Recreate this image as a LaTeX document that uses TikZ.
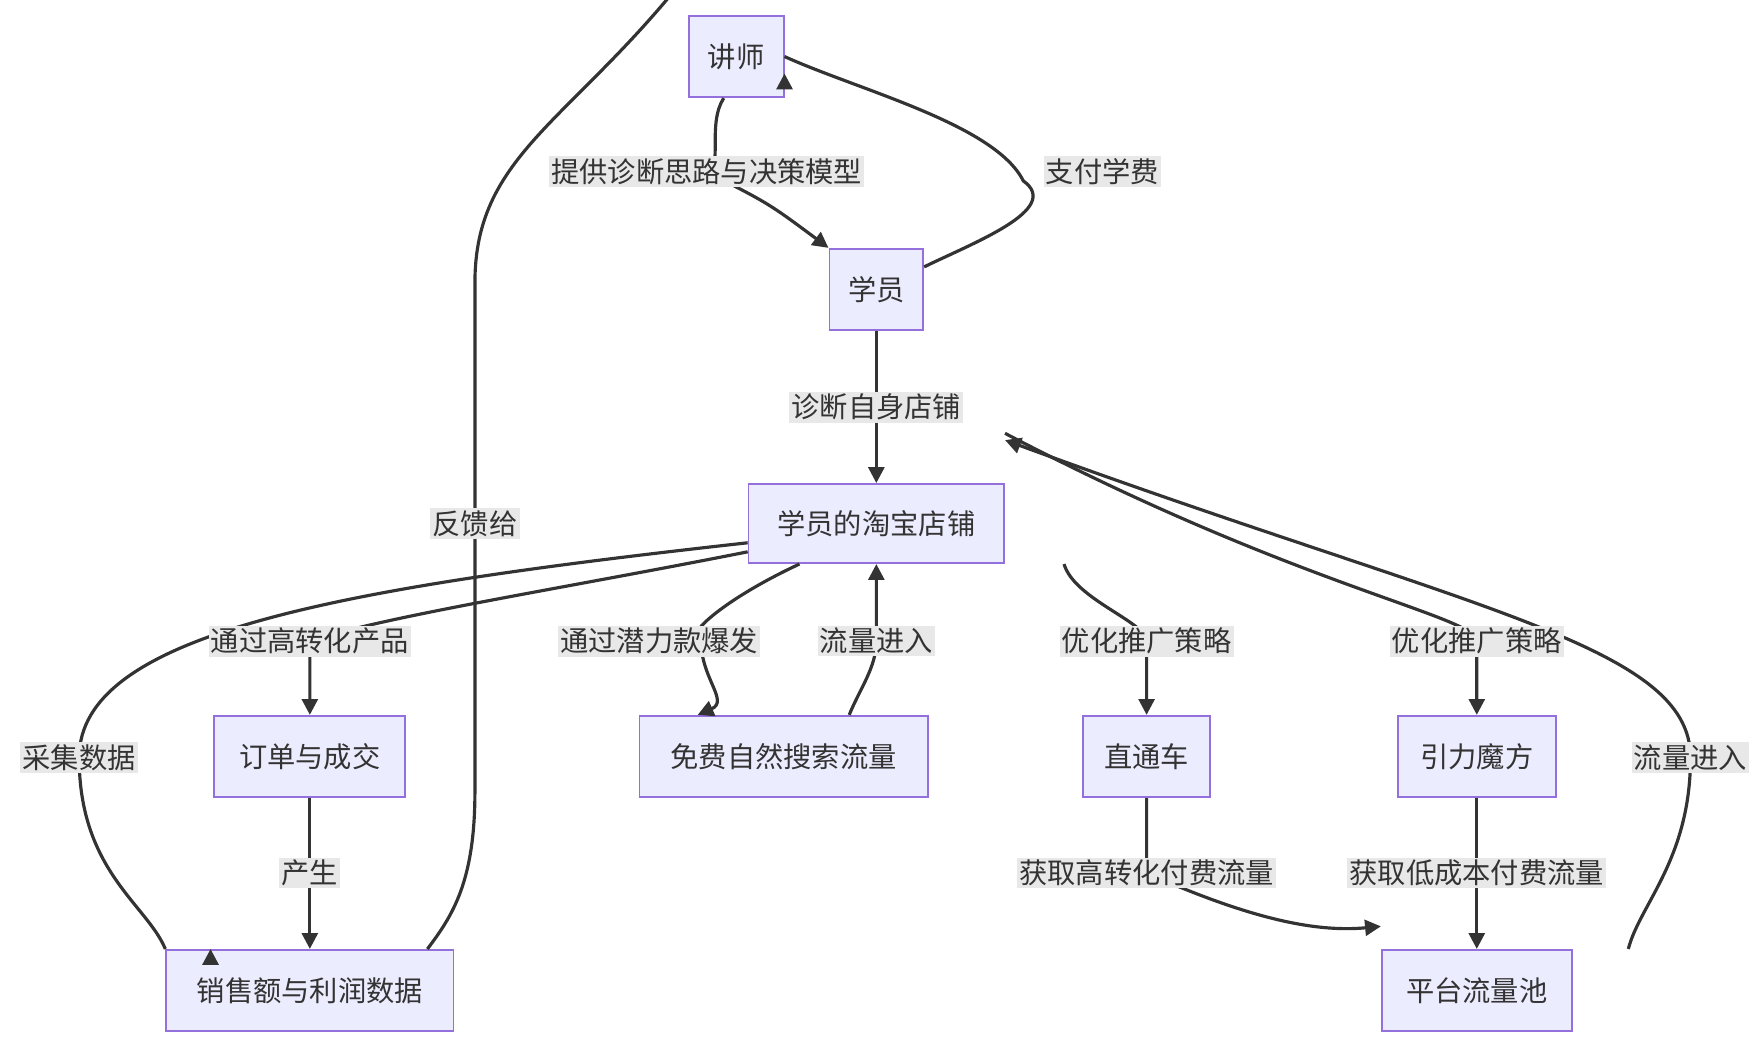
\documentclass[tikz,border=0pt]{standalone}
\usepackage{fontspec}
\setmainfont{Noto Sans CJK SC}
\usetikzlibrary{arrows.meta}
\definecolor{nfill}{HTML}{ECECFF}
\definecolor{nline}{HTML}{9370DB}
\definecolor{eline}{HTML}{333333}
\definecolor{lbg}{HTML}{E8E8E8}
\begin{document}
\begin{tikzpicture}[x=0.5pt,y=-0.5pt,
  box/.style={draw=nline,fill=nfill,line width=0.8pt,font=\fontsize{12.5}{14}\selectfont,text=eline,inner sep=0pt},
  edge/.style={draw=eline,line width=1.4pt,-{Triangle[length=7pt,width=7pt]}},
  lab/.style={fill=lbg,font=\fontsize{12.5}{14}\selectfont,text=eline,inner sep=1pt}]
\useasboundingbox (0,0) rectangle (1560,923);
\node[box,minimum width=42pt,minimum height=36pt] (js) at (651,50) {讲师};
\node[box,minimum width=41.5pt,minimum height=36pt] (xy) at (775,256) {学员};
\node[box,minimum width=113pt,minimum height=35pt] (dp) at (775,463) {学员的淘宝店铺};
\node[box,minimum width=84.5pt,minimum height=36pt] (dd) at (274,669) {订单与成交};
\node[box,minimum width=127.5pt,minimum height=36pt] (mf) at (693,669) {免费自然搜索流量};
\node[box,minimum width=56pt,minimum height=36pt] (zt) at (1014,669) {直通车};
\node[box,minimum width=70pt,minimum height=36pt] (yl) at (1306,669) {引力魔方};
\node[box,minimum width=127pt,minimum height=36pt] (xs) at (274,876) {销售额与利润数据};
\node[box,minimum width=84pt,minimum height=36pt] (pt) at (1306,876) {平台流量池};
\coordinate (l1) at (625,152);
\coordinate (l2) at (905,160);
\coordinate (l4) at (274,567);
\coordinate (l5) at (70,670);
\coordinate (l6) at (620,567);
\coordinate (l7) at (775,567);
\coordinate (l8) at (1014,567);
\coordinate (l9) at (1306,567);
\coordinate (l10) at (1495,670);
\coordinate (l11) at (420,463);
\coordinate (l12) at (1014,772);
\path[edge] (js.south) ++(-11,0) coordinate (a1) (a1) .. controls (625,110) and (640,150) .. (l1) .. controls (680,180) .. (xy.north west);
\path[edge] (xy.east) ++(0,-20) coordinate (a2) (a2) .. controls (860,215) and (940,185) .. (l2) .. controls (880,110) and (760,80) .. (js.east) ++(0,15);
\path[edge] (xy) -- (dp);
\path[edge] (dp.west) ++(0,25) coordinate (a4) (a4) .. controls (500,520) and (340,545) .. (l4) .. controls (274,590) .. (dd.north);
\path[edge] (dp.west) ++(0,17) coordinate (a5) (a5) .. controls (300,520) and (70,560) .. (l5) .. controls (70,770) and (130,800) .. (xs.north west) ++(40,0) coordinate (a5e);
\path[edge] (dp.south) ++(-68,0) coordinate (a6) (a6) .. controls (640,530) and (600,565) .. (l6) .. controls (620,600) and (645,620) .. ([xshift=-38]mf.north);
\path[edge] ([xshift=29]mf.north) .. controls (760,610) and (775,590) .. (l7) -- (dp.south);
\path[edge] ([xshift=83]dp.south) .. controls (950,530) and (1014,550) .. (l8) -- (zt.north);
\path[edge] ([yshift=22]dp.north east) .. controls (1150,520) and (1306,545) .. (l9) -- (yl.north);
\path[edge] ([xshift=67]pt.north) .. controls (1450,800) and (1495,760) .. (l10) .. controls (1495,570) and (1300,540) .. ([yshift=19]dp.north east);
\path[edge] (dd) -- (xs);
\path[edge] ([xshift=52]xs.north) .. controls (400,810) and (420,780) .. (420,700) -- (l11) -- (420,250) .. controls (420,140) and (500,110) .. ([yshift=18]js.north west);
\path[edge] (zt.south) .. controls (1014,740) and (1014,772) .. (l12) .. controls (1100,810) and (1160,825) .. ([yshift=10]pt.north west);
\path[edge] (yl) -- (pt);
\node[lab] at (625,152) {提供诊断思路与决策模型};
\node[lab] at (975,152) {支付学费};
\node[lab] at (775,360) {诊断自身店铺};
\node[lab] at (274,567) {通过高转化产品};
\node[lab] at (70,670) {采集数据};
\node[lab] at (583,567) {通过潜力款爆发};
\node[lab] at (775,567) {流量进入};
\node[lab] at (1014,567) {优化推广策略};
\node[lab] at (1306,567) {优化推广策略};
\node[lab] at (1495,670) {流量进入};
\node[lab] at (420,463) {反馈给};
\node[lab] at (274,772) {产生};
\node[lab] at (1014,772) {获取高转化付费流量};
\node[lab] at (1306,772) {获取低成本付费流量};
\end{tikzpicture}
\end{document}
